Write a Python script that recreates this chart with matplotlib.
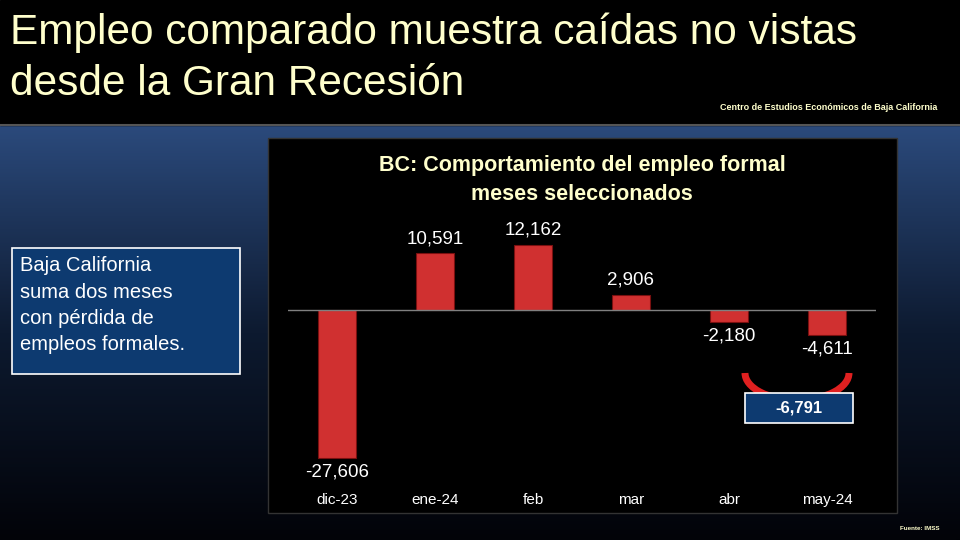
import matplotlib
matplotlib.use("Agg")
import matplotlib.pyplot as plt
import numpy as np
from matplotlib.patches import Rectangle, Arc
from matplotlib.colors import LinearSegmentedColormap

plt.rcParams['font.family'] = ['Liberation Sans', 'DejaVu Sans']

categories = ["dic-23", "ene-24", "feb", "mar", "abr", "may-24"]
values = [-27606, 10591, 12162, 2906, -2180, -4611]
labels = ["-27,606", "10,591", "12,162", "2,906", "-2,180", "-4,611"]
sum_label = "-6,791"

fig = plt.figure(figsize=(9.6, 5.4), dpi=100)
W, H = 960, 540
def fx(x): return x / W
def fy(y): return 1 - y / H

bg = fig.add_axes([0, 0, 1, 1]); bg.set_axis_off()
grad = np.linspace(0, 1, 256).reshape(-1, 1)
cm = LinearSegmentedColormap.from_list("g", ["#020308", "#0d1a30", "#2b4a7c"])
bg.imshow(grad, cmap=cm, extent=[0, 1, 0, fy(125)], aspect="auto", origin="lower")
bg.add_patch(Rectangle((0, fy(125)), 1, 1 - fy(125), color="black"))
bg.plot([0, 1], [fy(125), fy(125)], color="#555555", lw=1.5)
bg.set_xlim(0, 1); bg.set_ylim(0, 1)
bg.text(fx(10), fy(33), "Empleo comparado muestra caídas no vistas", color="#FFFFCC",
        fontsize=30.5, va="center", ha="left")
bg.text(fx(10), fy(84), "desde la Gran Recesión", color="#FFFFCC",
        fontsize=30.5, va="center", ha="left")
bg.text(fx(937), fy(107), "Centro de Estudios Económicos de Baja California", color="#FFFFCC",
        fontsize=6.5, weight="bold", ha="right", va="center")
bg.text(fx(940), fy(528), "Fuente: IMSS", color="#FFFFCC", fontsize=4.5, weight="bold", ha="right", va="center")
bg.add_patch(Rectangle((fx(268), fy(513)), fx(897-268), fy(138)-fy(513), color="black", ec="#333333", lw=1))
bg.text(fx(582), fy(166), "BC: Comportamiento del empleo formal", color="#FFFFCC",
        fontsize=15.5, weight="bold", ha="center", va="center")
bg.text(fx(582), fy(194), "meses seleccionados", color="#FFFFCC",
        fontsize=15.5, weight="bold", ha="center", va="center")
bg.add_patch(Rectangle((fx(12), fy(374)), fx(228), fy(248)-fy(374), facecolor="#0d3a70", edgecolor="white", lw=1.2))
bg.text(fx(20), fy(256), "Baja California\nsuma dos meses\ncon pérdida de\nempleos formales.", color="white",
        fontsize=14.5, ha="left", va="top", linespacing=1.5)

ax = fig.add_axes([fx(288), fy(471), fx(588), fy(203) - fy(471)])
ax.set_facecolor("none")
ax.set_xlim(-0.5, 5.5); ax.set_ylim(-30000, 20000)
x = np.arange(len(values))
ax.bar(x, values, width=0.39, color="#d03030", edgecolor="#7a1010", lw=0.8)
ax.axhline(0, color="#808080", lw=1)
for i, (v, l) in enumerate(zip(values, labels)):
    if v >= 0:
        ax.text(i, v + 1200, l, color="white", fontsize=13.5, ha="center", va="bottom")
    else:
        ax.text(i, v - 1000, l, color="white", fontsize=13.5, ha="center", va="top")
ax.set_xticks(x); ax.set_xticklabels(categories, color="white", fontsize=11)
ax.tick_params(length=0, pad=16)
ax.set_yticks([])
for s in ax.spines.values(): s.set_visible(False)

bg.add_patch(Arc((fx(797), fy(373)), fx(104), (fy(373) - fy(400)) * 2, theta1=180, theta2=360,
                 color="#e02020", lw=5))
bg.add_patch(Rectangle((fx(745), fy(423)), fx(108), fy(393) - fy(423), facecolor="#0d3a70", edgecolor="white", lw=1.2, zorder=5))
bg.text(fx(799), fy(408), sum_label, color="white", fontsize=12, weight="bold", ha="center", va="center", zorder=6)

fig.savefig("out.png", dpi=100)
